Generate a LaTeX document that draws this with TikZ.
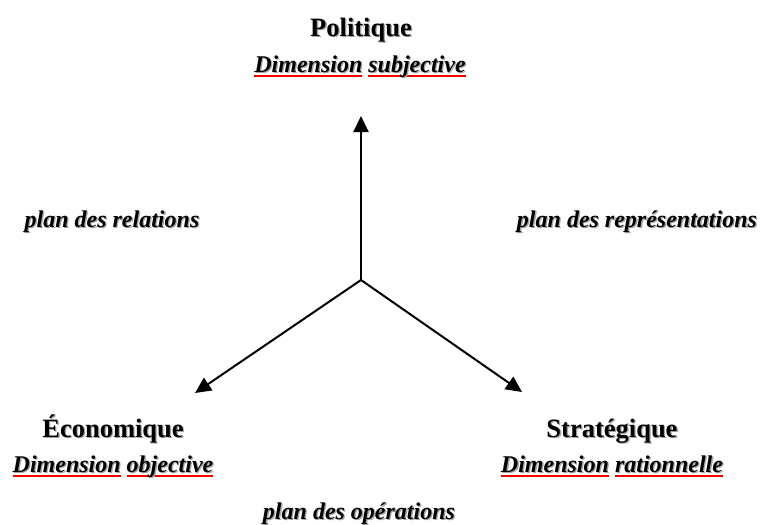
\documentclass[tikz,border=0pt]{standalone}
\usepackage{fontspec}
\setmainfont{Liberation Serif}
\usepackage{xcolor}
\usetikzlibrary{arrows.meta, positioning}
\definecolor{shadowgray}{RGB}{165,165,165}
\definecolor{spellred}{RGB}{240,0,0}
\newlength{\ulwidth}
\newcommand{\shadowed}[1]{\leavevmode\rlap{\hspace{1.3pt}\raisebox{-1.3pt}{\color{shadowgray}#1}}#1}
\newcommand{\redword}[1]{\settowidth{\ulwidth}{#1}\rlap{\color{spellred}\rule[-5pt]{\ulwidth}{2pt}}#1}

\begin{document}
\begin{tikzpicture}[
    x=1pt, y=-1pt,
    pole/.style={inner sep=0pt, anchor=base,
                font=\fontsize{26.5}{30}\selectfont\bfseries},
    dim/.style={inner sep=0pt, anchor=base,
                font=\fontsize{24}{28}\selectfont\bfseries\itshape},
    plane/.style={dim},
    arrow/.style={-{Triangle[length=16pt, width=15pt]}, line width=2pt}
]
    \useasboundingbox (0,0) rectangle (761,525);

    % Poles
    \node[pole] (pol) at (361,36) {\shadowed{Politique}};
    \node[dim] (pol-dim) at (360,72) {\redword{\shadowed{Dimension}} \redword{\shadowed{subjective}}};

    \node[pole] (eco) at (113,437) {\shadowed{Économique}};
    \node[dim] (eco-dim) at (113,472) {\redword{\shadowed{Dimension}} \redword{\shadowed{objective}}};

    \node[pole] (strat) at (612,437) {\shadowed{Stratégique}};
    \node[dim] (strat-dim) at (612,472) {\redword{\shadowed{Dimension}} \redword{\shadowed{rationnelle}}};

    % Planes
    \node[plane] (relations) at (112,227) {\shadowed{plan des relations}};
    \node[plane] (repres) at (637,227) {\shadowed{plan des représentations}};
    \node[plane] (operations) at (359,519) {\shadowed{plan des opérations}};

    % Axes
    \coordinate (origin) at (361,280);
    \coordinate (tip-pol) at (361,116);
    \coordinate (tip-eco) at (195,393);
    \coordinate (tip-strat) at (522,392);

    \draw[arrow] (origin) -- (tip-pol);
    \draw[arrow] (origin) -- (tip-eco);
    \draw[arrow] (origin) -- (tip-strat);
\end{tikzpicture}
\end{document}
